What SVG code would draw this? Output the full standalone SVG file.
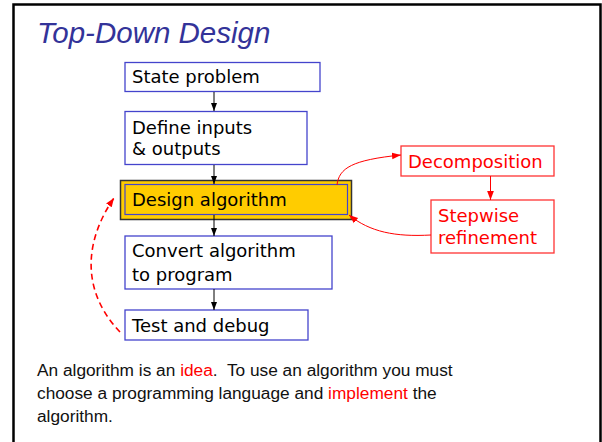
<svg xmlns="http://www.w3.org/2000/svg" width="602" height="442" viewBox="0 0 602 442">
<defs>
<style>
.box{fill:#fff;stroke:#4444cc;stroke-width:1.3}
.rbox{fill:#fff;stroke:#ff3333;stroke-width:1.3}
.t{font-family:"DejaVu Sans",sans-serif;font-size:18px;fill:#000}
.rt{font-family:"DejaVu Sans",sans-serif;font-size:18px;fill:#ff0000}
.body{font-family:"Liberation Sans",Arial,sans-serif;font-size:17.3px;fill:#111}
.red{fill:#ff0000}
.conn{fill:none;stroke:#000;stroke-width:1}
.rconn{fill:none;stroke:#ff0000;stroke-width:1}
</style>
<marker id="ab" viewBox="0 0 8 8" refX="8" refY="4" markerWidth="8" markerHeight="8" markerUnits="userSpaceOnUse" orient="auto">
<path d="M0,1 L8,4 L0,7 Z" fill="#000"/>
</marker>
<marker id="ar" viewBox="0 0 8 8" refX="8" refY="4" markerWidth="9" markerHeight="9" markerUnits="userSpaceOnUse" orient="auto">
<path d="M0,1 L8,4 L0,7 Z" fill="#ff0000"/>
</marker>
</defs>
<rect x="0" y="0" width="602" height="442" fill="#fff"/>
<rect x="13.5" y="4.5" width="587" height="460" fill="none" stroke="#000" stroke-width="2.5"/>
<text x="37" y="43" font-family="Liberation Sans,Arial,sans-serif" font-style="italic" font-size="29.5" fill="#333399">Top-Down Design</text>

<g id="state">
<rect class="box" x="125" y="62.5" width="195" height="29"/>
<text class="t" x="132" y="83">State problem</text>
</g>
<g id="define">
<rect class="box" x="125" y="111.5" width="182" height="53"/>
<text class="t" x="132" y="134">Define inputs</text>
<text class="t" x="132" y="155">&amp; outputs</text>
</g>
<g id="design">
<rect x="120.5" y="180.5" width="231" height="39" fill="#ffcc00" stroke="#333" stroke-width="1.5"/>
<rect x="125" y="184.5" width="222.5" height="30" fill="none" stroke="#4444cc" stroke-width="1.2"/>
<text class="t" x="132" y="206">Design algorithm</text>
</g>
<g id="convert">
<rect class="box" x="125" y="236" width="207" height="53"/>
<text class="t" x="132" y="257">Convert algorithm</text>
<text class="t" x="132" y="281">to program</text>
</g>
<g id="test">
<rect class="box" x="125" y="310" width="183" height="30"/>
<text class="t" x="132" y="331.5">Test and debug</text>
</g>
<g id="decomposition">
<rect class="rbox" x="401" y="146" width="153" height="30"/>
<text class="rt" x="408" y="168">Decomposition</text>
</g>
<g id="stepwise">
<rect class="rbox" x="431" y="200" width="123" height="53"/>
<text class="rt" x="438" y="222">Stepwise</text>
<text class="rt" x="438" y="243.5">refinement</text>
</g>

<g id="connectors">
<line class="conn" x1="214" y1="92" x2="214" y2="111" marker-end="url(#ab)"/>
<line class="conn" x1="214" y1="165" x2="214" y2="184" marker-end="url(#ab)"/>
<line class="conn" x1="214" y1="215" x2="214" y2="236" marker-end="url(#ab)"/>
<line class="conn" x1="214" y1="289" x2="214" y2="310" marker-end="url(#ab)"/>
<line class="rconn" x1="490.5" y1="176" x2="490.5" y2="200" marker-end="url(#ar)"/>
<path class="rconn" d="M337,185 C339,168 352,160 401,155" marker-end="url(#ar)"/>
<path class="rconn" d="M431,235 C395,237 370,232 349,215" marker-end="url(#ar)"/>
<path d="M120,332 C80,290 85,240 114,198" fill="none" stroke="#ff0000" stroke-width="1.6" stroke-dasharray="6,4" marker-end="url(#ar)"/>
</g>

<text class="body" x="37" y="376" xml:space="preserve">An algorithm is an <tspan class="red">idea</tspan>.  To use an algorithm you must</text>
<text class="body" x="37" y="399">choose a programming language and <tspan class="red">implement</tspan> the</text>
<text class="body" x="37" y="422">algorithm.</text>
</svg>
